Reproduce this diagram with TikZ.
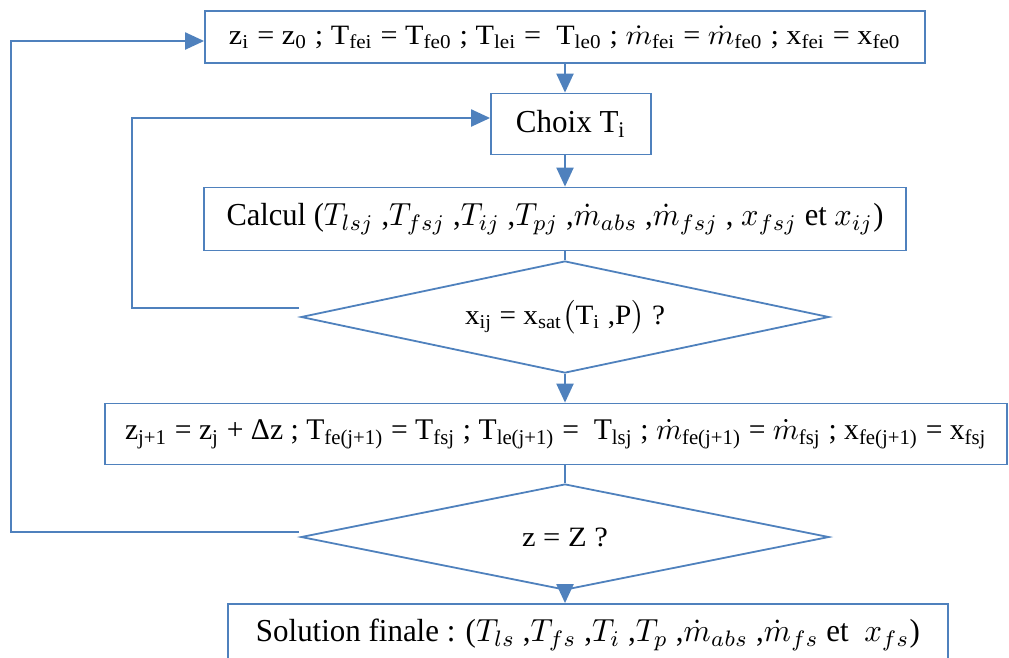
\documentclass[tikz,border=0pt]{standalone}
\usepackage{fontspec}
\setmainfont{Liberation Serif}
\usetikzlibrary{arrows.meta,shapes.geometric}
\definecolor{fcblue}{RGB}{79,129,189}
\newcommand{\sbs}[1]{\textsubscript{#1}}
\newcommand{\md}{$\dot{m}$}
\newcommand{\fitw}[3]{\scalebox{#2}{\resizebox{#1}{\height}{#3}}}
\begin{document}
\begin{tikzpicture}[x=1pt,y=-1pt,
  box/.style={draw=fcblue,line width=1.8pt,inner sep=0pt,fill=white},
  dia/.style={draw=fcblue,line width=1.8pt,diamond,aspect=4.7,inner sep=0pt,minimum width=528pt,minimum height=112pt},
  conn/.style={draw=fcblue,line width=2.2pt},
  arr/.style={conn,-{Triangle[length=19pt,width=17pt]}}]
\useasboundingbox (0,0) rectangle (1009,657);

\node[box,minimum width=720pt,minimum height=52pt] (b1) at (565,37)
  {\fitw{240pt}{2.8}{z\sbs{i} = z\sbs{0} ; T\sbs{fei} = T\sbs{fe0} ; T\sbs{lei} =\ \ T\sbs{le0} ; \md\sbs{fei} = \md\sbs{fe0} ; x\sbs{fei} = x\sbs{fe0}}};

\node[box,minimum width=160pt,minimum height=61pt] (b2) at (571,124)
  {\fitw{34.4pt}{3.2}{Choix T\sbs{i}}};

\node[box,minimum width=702pt,minimum height=63pt] (b3) at (555,219)
  {\fitw{205.3pt}{3.2}{Calcul ($T_{lsj}$ ,$T_{fsj}$ ,$T_{ij}$ ,$T_{pj}$ ,$\dot{m}_{abs}$ ,$\dot{m}_{fsj}$ , $x_{fsj}$ et $x_{ij}$)}};

\node[dia] (d1) at (565,317)
  {\fitw{71.4pt}{2.8}{x\sbs{ij} = x\sbs{sat}$\bigl($T\sbs{i} ,P$\bigr)$ ?}};

\node[box,minimum width=902pt,minimum height=61pt] (b4) at (556,434)
  {\fitw{287.3pt}{3.0}{z\sbs{j+1} = z\sbs{j} + Δz ; T\sbs{fe(j+1)} = T\sbs{fsj} ; T\sbs{le(j+1)} =\ \ T\sbs{lsj} ; \md\sbs{fe(j+1)} = \md\sbs{fsj} ; x\sbs{fe(j+1)} = x\sbs{fsj}}};

\node[dia,minimum height=106pt] (d2) at (565,537)
  {\fitw{30.7pt}{2.8}{z = Z ?}};

\node[box,minimum width=720pt,minimum height=62pt] (b5) at (588,635)
  {\fitw{207.5pt}{3.2}{Solution finale : ($T_{ls}$ ,$T_{fs}$ ,$T_i$ ,$T_p$ ,$\dot{m}_{abs}$ ,$\dot{m}_{fs}$ et\ \ $x_{fs}$)}};

% main flow
\draw[arr] (b1.south) -- (b1.south |- b2.north);
\draw[arr] (b1.south |- b2.south) -- (b1.south |- b3.north);
\draw[conn] (b1.south |- b3.south) -- (d1.north);
\draw[arr] (d1.south) -- (d1.south |- b4.north);
\draw[conn] (d1.south |- b4.south) -- (d2.north);
\draw[arr] (d2.south) -- (d2.south |- b5.north);

% loops
\coordinate (L1) at (132,0);
\coordinate (in1) at ([yshift=6pt]b2.west);
\draw[arr] ([yshift=9pt,xshift=-1pt]d1.west) -| (L1 |- in1) -- (in1);

\coordinate (L2) at (11,0);
\coordinate (in2) at ([yshift=-4pt]b1.west);
\draw[arr] ([yshift=5pt,xshift=-1pt]d2.west) -| (L2 |- in2) -- (in2);
\end{tikzpicture}
\end{document}
